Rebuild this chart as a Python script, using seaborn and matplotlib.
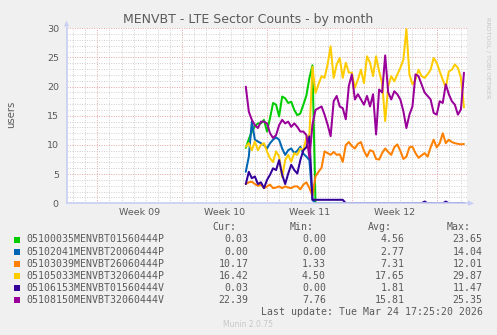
import numpy as np
import pandas as pd
import matplotlib
matplotlib.use("Agg")
import matplotlib.pyplot as plt
import matplotlib.dates as mdates
import matplotlib.transforms as mtransforms
from matplotlib.patches import Rectangle, Polygon
from matplotlib.ticker import MultipleLocator, NullFormatter
import seaborn as sns

# ---------------------------------------------------------------- data
title = "MENVBT - LTE Sector Counts - by month"
y_label = "users"
vertical_credit = "RRDTOOL / TOBI OETIKER"
footer = "Munin 2.0.75"
last_update = "Last update: Tue Mar 24 17:25:20 2026"

series_names = [
    "05100035MENVBT01560444P",
    "05102041MENVBT20060444P",
    "05103039MENVBT26060444P",
    "05105033MENVBT32060444P",
    "05106153MENVBT01560444V",
    "05108150MENVBT32060444V",
]
series_colors = ["#00CC00", "#0066B3", "#FF8000", "#FFCC00", "#330099", "#990099"]

# one sample every 6 hours
sample_times = pd.date_range("2026-03-07 06:00", periods=73, freq="6h")

green_p = [
    9.5, 11.0, 12.3, 13.2, 13.7, 13.7, 14.3, 12.3, 14.6, 17.2,
    16.9, 14.9, 18.3, 18.0, 17.2, 17.4, 16.0, 15.1, 15.4, 16.9,
    18.5, 21.5, 23.65, 0.0, 0.0, 0.0, 0.0, 0.0, 0.0, 0.0,
    0.0, 0.0, 0.0, 0.0, 0.0, 0.0, 0.0, 0.0, 0.0, 0.0,
    0.0, 0.0, 0.0, 0.0, 0.0, 0.0, 0.0, 0.0, 0.0, 0.0,
    0.0, 0.0, 0.0, 0.0, 0.0, 0.0, 0.0, 0.0, 0.0, 0.0,
    0.0, 0.0, 0.0, 0.0, 0.0, 0.0, 0.0, 0.0, 0.0, 0.0,
    0.0, 0.0, 0.03,
]
blue_p = [
    5.4, 8.0, 14.04, 10.9, 10.6, 10.3, 10.0, 9.4, 10.3, 10.9,
    11.3, 10.9, 9.4, 8.3, 9.1, 9.4, 8.6, 9.0, 9.7, 8.5,
    8.0, 7.4, 0.6, 0.0, 0.0, 0.0, 0.0, 0.0, 0.0, 0.0,
    0.0, 0.0, 0.0, 0.0, 0.0, 0.0, 0.0, 0.0, 0.0, 0.0,
    0.0, 0.0, 0.0, 0.0, 0.0, 0.0, 0.0, 0.0, 0.0, 0.0,
    0.0, 0.0, 0.0, 0.0, 0.0, 0.0, 0.0, 0.0, 0.0, 0.0,
    0.0, 0.0, 0.0, 0.0, 0.0, 0.0, 0.0, 0.0, 0.0, 0.0,
    0.0, 0.0, 0.0,
]
orange_p = [
    3.3, 3.6, 3.7, 3.3, 3.0, 3.2, 2.6, 2.9, 3.2, 2.6,
    2.7, 2.9, 2.6, 2.9, 2.7, 2.6, 2.9, 2.9, 2.4, 3.2,
    3.6, 2.6, 1.33, 4.6, 5.4, 6.1, 8.9, 8.6, 8.3, 8.8,
    8.3, 8.4, 7.1, 10.0, 10.5, 9.8, 9.4, 10.2, 10.5, 9.0,
    8.0, 9.1, 8.9, 7.6, 7.5, 8.6, 9.4, 8.8, 8.3, 9.6,
    10.1, 9.0, 7.6, 8.0, 9.6, 9.7, 8.6, 7.8, 8.2, 8.6,
    8.0, 9.6, 10.9, 9.6, 10.3, 12.01, 10.3, 10.9, 10.5, 10.3,
    10.2, 10.1, 10.17,
]
yellow_p = [
    9.7, 10.3, 9.1, 10.6, 9.1, 10.0, 10.3, 8.9, 7.7, 7.1,
    8.9, 8.0, 4.5, 7.4, 8.3, 7.1, 8.6, 8.3, 9.4, 9.1,
    11.2, 11.7, 23.4, 18.9, 20.4, 21.8, 21.5, 23.8, 26.9, 21.5,
    23.8, 24.9, 21.5, 24.1, 22.4, 22.4, 19.8, 21.2, 22.9, 20.6,
    25.2, 24.1, 21.8, 25.2, 22.6, 20.6, 14.1, 20.1, 21.8, 20.9,
    22.1, 23.2, 24.6, 29.87, 22.1, 20.4, 21.2, 22.9, 21.8, 21.5,
    22.1, 22.9, 24.9, 24.1, 22.6, 21.2, 19.8, 22.6, 22.9, 23.8,
    23.2, 21.5, 16.42,
]
darkblue_v = [
    3.3, 5.4, 4.3, 4.6, 3.3, 3.6, 2.6, 4.0, 4.9, 6.0,
    5.7, 7.4, 4.9, 3.3, 5.1, 6.6, 5.7, 5.1, 7.4, 9.1,
    9.6, 11.47, 0.6, 0.6, 0.6, 0.6, 0.6, 0.6, 0.6, 0.6,
    0.6, 0.6, 0.6, 0.0, 0.0, 0.0, 0.0, 0.0, 0.0, 0.0,
    0.0, 0.0, 0.0, 0.0, 0.0, 0.0, 0.0, 0.0, 0.0, 0.0,
    0.0, 0.0, 0.0, 0.0, 0.0, 0.0, 0.0, 0.0, 0.0, 0.3,
    0.0, 0.0, 0.0, 0.0, 0.0, 0.0, 0.3, 0.0, 0.0, 0.0,
    0.0, 0.0, 0.03,
]
purple_v = [
    20.0, 15.7, 14.3, 13.4, 12.9, 14.0, 14.0, 13.7, 12.0, 11.2,
    11.7, 13.4, 14.3, 13.7, 14.0, 13.1, 13.7, 13.1, 12.3, 12.3,
    11.7, 7.76, 13.5, 16.0, 16.3, 16.6, 15.2, 13.5, 11.5, 17.5,
    18.4, 16.6, 16.3, 14.4, 20.1, 22.1, 17.8, 18.7, 17.8, 16.9,
    18.4, 16.6, 18.7, 11.8, 19.5, 19.0, 25.35, 19.0, 17.8, 19.2,
    18.7, 17.8, 15.8, 12.9, 15.2, 16.6, 22.1, 21.8, 20.4, 19.0,
    18.4, 17.8, 15.5, 15.2, 17.5, 17.2, 20.4, 18.7, 17.5, 16.9,
    15.2, 16.1, 22.39,
]
series_values = [green_p, blue_p, orange_p, yellow_p, darkblue_v, purple_v]

legend_cur = ["0.03", "0.00", "10.17", "16.42", "0.03", "22.39"]
legend_min = ["0.00", "0.00", "1.33", "4.50", "0.00", "7.76"]
legend_avg = ["4.56", "2.77", "7.31", "17.65", "1.81", "15.81"]
legend_max = ["23.65", "14.04", "12.01", "29.87", "11.47", "25.35"]

y_max = 30
view_start = pd.Timestamp("2026-02-20 11:00")
view_end = pd.Timestamp("2026-03-25 13:00")

# ---------------------------------------------------------------- style
W, H, DPI = 497, 335, 100
BACK = "#F0F0F0"
FONT = "#5A5A5A"
AXIS = "#C8CEF2"
GRID = "#CFCFCF"
MGRID = "#E6A3A3"

sns.set_style("white")
plt.rcParams["font.family"] = ["DejaVu Sans"]

frames = []
for name, vals in zip(series_names, series_values):
    frames.append(pd.DataFrame({"time": sample_times, "users": vals, "series": name}))
df = pd.concat(frames, ignore_index=True)

fig = plt.figure(figsize=(W / DPI, H / DPI), dpi=DPI, facecolor=BACK)


def fx(x):
    return x / W


def fy(y):
    return 1 - y / H


left_px, right_px, top_px, bottom_px = 66.5, 467.5, 28.3, 203.3
ax = fig.add_axes([fx(left_px), fy(bottom_px), fx(right_px - left_px), (bottom_px - top_px) / H])
ax.set_facecolor("white")

sns.lineplot(
    data=df, x="time", y="users", hue="series", hue_order=series_names,
    palette=series_colors, legend=False, ax=ax, linewidth=1.45, estimator=None,
)

ax.set_xlim(view_start, view_end)
ax.set_ylim(0, y_max)

# grid: daily / unit minor, weekly / 5-unit major, dotted like rrdtool
ax.xaxis.set_major_locator(mdates.WeekdayLocator(byweekday=mdates.MO))
ax.xaxis.set_minor_locator(mdates.DayLocator())
ax.xaxis.set_major_formatter(NullFormatter())
ax.yaxis.set_major_locator(MultipleLocator(5))
ax.yaxis.set_minor_locator(MultipleLocator(1))
ax.set_axisbelow(True)
ax.grid(which="minor", color=GRID, linestyle=(0, (1, 1.5)), linewidth=0.7)
ax.grid(which="major", color=MGRID, linestyle=(0, (1, 1.5)), linewidth=0.7)

ax.tick_params(axis="y", which="major", length=1.5, color=GRID, labelsize=6.8,
               labelcolor=FONT, pad=4)
ax.tick_params(axis="y", which="minor", length=0)
ax.tick_params(axis="x", which="major", length=2.2, color=MGRID, direction="out")
ax.tick_params(axis="x", which="minor", length=1.5, color=GRID, direction="out")
ax.set_xlabel("")
ax.set_ylabel("")

for side in ["top", "right"]:
    ax.spines[side].set_visible(False)
for side in ["left", "bottom"]:
    ax.spines[side].set_color(AXIS)
    ax.spines[side].set_linewidth(1.2)

# week labels centred on each week
trans = mtransforms.blended_transform_factory(ax.transData, ax.transAxes)
week_start = view_start.normalize() - pd.Timedelta(days=view_start.weekday())
while week_start < view_end:
    centre = week_start + pd.Timedelta(days=3.5)
    if view_start < centre < view_end:
        wk = centre.isocalendar()[1]
        ax.text(mdates.date2num(centre), -0.055, f"Week {wk:02d}", transform=trans,
                ha="center", va="center", fontsize=6.8, color=FONT)
    week_start += pd.Timedelta(days=7)

# axis arrows
fig.add_artist(Polygon([[fx(64.0), fy(26.5)], [fx(69.0), fy(26.5)], [fx(66.5), fy(20.5)]],
                       closed=True, transform=fig.transFigure, color=AXIS, lw=0))
fig.add_artist(Polygon([[fx(468), fy(200.5)], [fx(468), fy(206)], [fx(474), fy(203.3)]],
                       closed=True, transform=fig.transFigure, color=AXIS, lw=0))

# titles and side texts
fig.text(fx(248), fy(19.3), title, ha="center", va="center", fontsize=9.0, color=FONT)
fig.text(fx(11), fy(114), y_label, ha="center", va="center", rotation=90,
         fontsize=7.3, color=FONT)
fig.text(fx(488.5), fy(58), vertical_credit, ha="center", va="center", rotation=270,
         fontsize=4.6, color="#C4C4C4")

# legend table
mono = "DejaVu Sans Mono"
ms = 7.1
header_y = 227.3
for label, x in zip(["Cur:", "Min:", "Avg:", "Max:"], [212.7, 290.0, 368.0, 446.7]):
    fig.text(fx(x), fy(header_y), label, ha="left", va="center", family=mono,
             fontsize=ms, color=FONT)

row_y = [239.5, 251.6, 263.6, 275.7, 287.7, 299.8]
for k, name in enumerate(series_names):
    y = row_y[k]
    fig.add_artist(Rectangle((fx(14.0), fy(y + 3.0)), 6 / W, 6 / H,
                             transform=fig.transFigure, color=series_colors[k], lw=0))
    fig.text(fx(26.7), fy(y), name, ha="left", va="center", family=mono,
             fontsize=ms, color=FONT)
    for col, x in zip([legend_cur, legend_min, legend_avg, legend_max],
                      [248.3, 326.0, 404.3, 482.7]):
        fig.text(fx(x), fy(y), col[k], ha="right", va="center", family=mono,
                 fontsize=ms, color=FONT)

fig.text(fx(482.7), fy(311.8), last_update, ha="right", va="center", family=mono,
         fontsize=ms, color=FONT)
fig.text(fx(247.7), fy(324.3), footer, ha="center", va="center", fontsize=5.5,
         color="#C8C8C8")

fig.savefig("out.png", dpi=DPI, facecolor=BACK)
